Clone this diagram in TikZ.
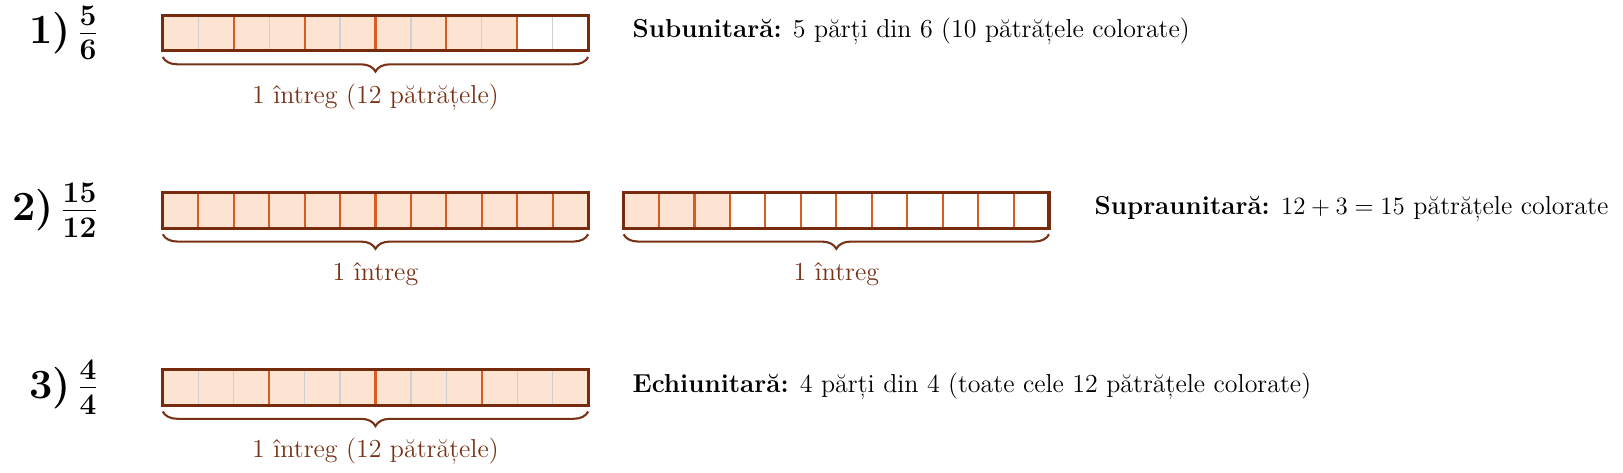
\documentclass[tikz,border=0pt]{standalone}
\usepackage{fontspec}
\usetikzlibrary{decorations.pathreplacing,calc}
\definecolor{barborder}{RGB}{118,44,12}
\definecolor{cellpeach}{RGB}{253,227,210}
\definecolor{gridorange}{RGB}{218,92,32}
\definecolor{gridgray}{RGB}{208,208,208}
\definecolor{bracebrown}{RGB}{118,50,22}
\newcommand\numtxt{\fontsize{20}{24}\selectfont}
\newcommand\fractxt{\fontsize{20.74}{25}\selectfont}
\newcommand\midtxt{\fontsize{12.5}{15}\selectfont}
\tikzset{
  barframe/.style={draw=barborder, line width=1.5pt, minimum width=7.2cm, minimum height=0.6cm, inner sep=0pt, outer sep=0pt, anchor=south west},
  cellfillstyle/.style={fill=cellpeach},
  minorline/.style={draw=gridgray, line width=0.6pt},
  majorline/.style={draw=gridorange, line width=1pt},
  bracestyle/.style={decorate, decoration={brace, amplitude=7pt}, draw=bracebrown, line width=1pt},
  bracelabel/.style={text=bracebrown, anchor=base, inner sep=0pt, font=\midtxt},
  rowlabel/.style={font=\bfseries\boldmath, anchor=base east, inner sep=0pt},
  desc/.style={anchor=mid west, inner sep=0pt, font=\midtxt},
}
% #1 name, #2 south-west corner, #3 filled cells, #4 group size
\newcommand\fracbar[4]{%
  \coordinate (#1sw) at (#2);
  \foreach \k in {1,...,#3} {
    \fill[cellfillstyle] ($(#1sw)+(\k*0.6-0.6,0)$) rectangle ++(0.6,0.6);
  }
  \foreach \k in {1,...,11} {
    \pgfmathtruncatemacro\rem{mod(\k,#4)}
    \ifnum\rem=0
      \draw[majorline] ($(#1sw)+(\k*0.6,0)$) -- ++(0,0.6);
    \else
      \draw[minorline] ($(#1sw)+(\k*0.6,0)$) -- ++(0,0.6);
    \fi
  }
  \node[barframe] (#1) at (#1sw) {};
}
\newcommand\rowtag[3]{{\numtxt #1}\hspace{3pt}{\fractxt$\frac{#2}{#3}$}}
\begin{document}
\begin{tikzpicture}
\useasboundingbox (0,0) rectangle (27.47,-7.99);

% Row 1
\node[rowlabel] (r1) at (1.68,-0.74) {\rowtag{1)}{5}{6}};
\fracbar{b1}{2.755,-0.86}{10}{2}
\draw[bracestyle] ([yshift=-3pt]b1.south east) -- ([yshift=-3pt]b1.south west);
\node[bracelabel] (l1) at ($(b1.south)+(0,-0.89)$) {1 întreg (12 pătrățele)};
\node[desc] (d1) at (10.70,-0.56) {\textbf{Subunitară:} 5 părți din 6 (10 pătrățele colorate)};

% Row 2
\node[rowlabel] (r2) at (1.68,-3.74) {\rowtag{2)}{15}{12}};
\fracbar{b2}{2.755,-3.86}{12}{1}
\draw[bracestyle] ([yshift=-3pt]b2.south east) -- ([yshift=-3pt]b2.south west);
\node[bracelabel] (l2) at ($(b2.south)+(0,-0.89)$) {1 întreg};
\fracbar{b2b}{10.555,-3.86}{3}{1}
\draw[bracestyle] ([yshift=-3pt]b2b.south east) -- ([yshift=-3pt]b2b.south west);
\node[bracelabel] (l2b) at ($(b2b.south)+(0,-0.89)$) {1 întreg};
\node[desc] (d2) at (18.52,-3.56) {\textbf{Supraunitară:} $12+3=15$ pătrățele colorate};

% Row 3
\node[rowlabel] (r3) at (1.68,-6.74) {\rowtag{3)}{4}{4}};
\fracbar{b3}{2.755,-6.86}{12}{3}
\draw[bracestyle] ([yshift=-3pt]b3.south east) -- ([yshift=-3pt]b3.south west);
\node[bracelabel] (l3) at ($(b3.south)+(0,-0.89)$) {1 întreg (12 pătrățele)};
\node[desc] (d3) at (10.70,-6.56) {\textbf{Echiunitară:} 4 părți din 4 (toate cele 12 pătrățele colorate)};
\end{tikzpicture}
\end{document}
